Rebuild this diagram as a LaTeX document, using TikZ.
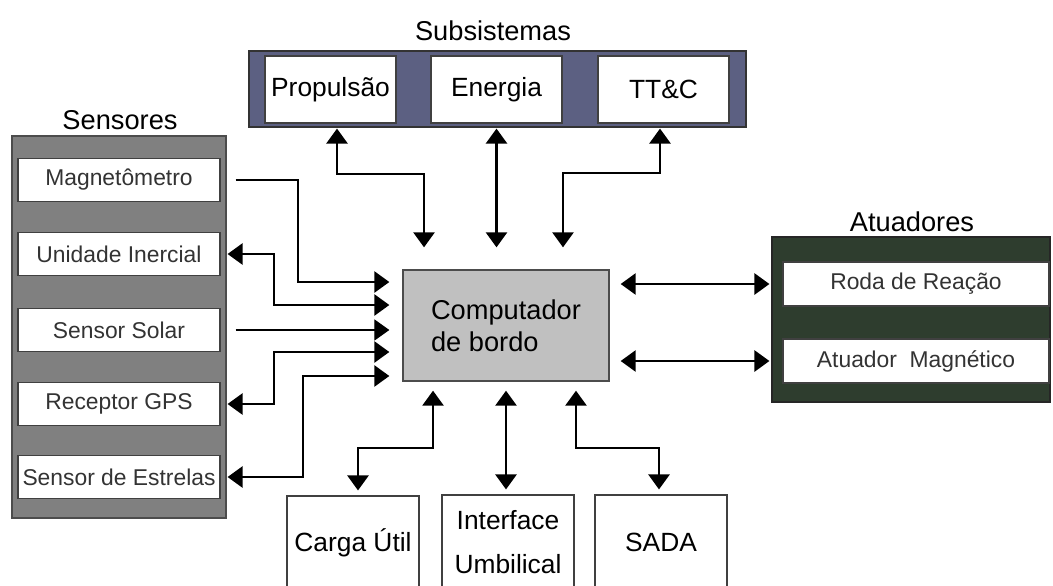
\documentclass[tikz,border=0pt]{standalone}
\usepackage{fontspec}
\setmainfont{Liberation Sans}
\usetikzlibrary{arrows.meta}

\begin{document}
\begin{tikzpicture}[x=0.02cm, y=-0.02cm,
    box/.style={draw=black!75, fill=white, line width=0.7pt, inner sep=0pt},
    sensbox/.style={box, minimum width=4.04cm, minimum height=0.86cm, font=\fontsize{13}{15}\selectfont, text=black!80},
    subbox/.style={box, minimum width=2.62cm, minimum height=1.34cm, font=\fontsize{15}{18}\selectfont},
    atubox/.style={box, minimum width=5.32cm, minimum height=0.88cm, font=\fontsize{13}{15}\selectfont, text=black!80},
    lowbox/.style={box, minimum width=2.64cm, minimum height=1.88cm, font=\fontsize{15}{25}\selectfont, align=center},
    title/.style={font=\fontsize{15.5}{18}\selectfont},
    tip/.tip={Triangle[width=12pt,length=8.5pt]},
    uniarrow/.style={line width=1.2pt, -tip},
    biarrow/.style={line width=1.2pt, tip-tip}]

% Colors
\definecolor{sensgray}{RGB}{128,128,128}
\definecolor{subblue}{RGB}{92,96,130}
\definecolor{atugreen}{RGB}{46,61,46}
\definecolor{compgray}{RGB}{192,192,192}

\useasboundingbox (0,0) rectangle (1053,585);
\clip (0,0) rectangle (1053,585);

% Group panels
\draw[fill=sensgray, draw=black!70, line width=0.8pt] (12,136) rectangle (226,518);
\draw[fill=subblue, draw=black!80, line width=0.8pt] (249,51) rectangle (746,127);
\draw[fill=atugreen, draw=black!85, line width=0.8pt] (772,237) rectangle (1050,402);

% Titles
\node[title] (tsens) at (120,120) {Sensores};
\node[title] (tsub) at (493,31) {Subsistemas};
\node[title] (tatu) at (912,222) {Atuadores};

% Sensors
\node[sensbox] (mag) at (119,180) {Magnetômetro};
\node[sensbox] (iner) at (119,254) {Unidade Inercial};
\node[sensbox] (solar) at (119,330) {Sensor Solar};
\node[sensbox] (gps) at (119,404) {Receptor GPS};
\node[sensbox] (estr) at (119,477) {Sensor de Estrelas};

% Subsystems
\node[subbox] (prop) at (330.5,89.5) {Propulsão};
\node[subbox] (ener) at (496.5,89.5) {Energia};
\node[subbox] (ttc) at (663.5,89.5) {TT\&C};

% Actuators
\node[atubox] (roda) at (916,284) {Roda de Reação};
\node[atubox] (atmag) at (916,361) {Atuador\ \ Magnético};

% On-board computer
\node[draw=black!70, fill=compgray, line width=0.8pt, minimum width=4.12cm, minimum height=2.22cm,
      font=\fontsize{15.5}{18}\selectfont, align=left] (comp) at (506,325.5) {Computador\\de bordo};

% Lower boxes
\node[lowbox] (carga) at (353,543) {Carga Útil};
\node[lowbox] (iface) at (508,542) {Interface\\Umbilical};
\node[lowbox] (sada) at (661,542) {SADA};

% Sensors to computer
\draw[uniarrow, shorten >=0.26cm] ([xshift=0.3cm]mag.east) -- ++(62,0) |- ([yshift=0.87cm]comp.west);
\draw[biarrow, shorten <=0.14cm, shorten >=0.26cm] (iner.east) -- ++(53,0) |- ([yshift=0.41cm]comp.west);
\draw[uniarrow, line width=0.6pt, shorten >=0.26cm] ([xshift=0.3cm]solar.east) -- (solar.east -| comp.west);
\draw[biarrow, shorten <=0.14cm, shorten >=0.26cm] (gps.east) -- ++(53,0) |- ([yshift=-0.53cm]comp.west);
\draw[biarrow, shorten <=0.14cm, shorten >=0.26cm] (estr.east) -- ++(82,0) |- ([yshift=-1.01cm]comp.west);

% Subsystems to computer
\draw[biarrow, shorten <=0.1cm, shorten >=0.44cm] ([xshift=0.13cm]prop.south) -- ++(0,50) -| ([xshift=-1.64cm]comp.north);
\draw[biarrow, shorten <=0.1cm, shorten >=0.44cm] (ener.south) -- (ener.south |- comp.north);
\draw[biarrow, shorten <=0.1cm, shorten >=0.44cm] ([xshift=-0.07cm]ttc.south) -- ++(0,49) -| ([xshift=1.14cm]comp.north);

% Computer to actuators
\draw[biarrow, shorten <=0.22cm, shorten >=0.26cm] (comp.east |- roda.west) -- (roda.west);
\draw[biarrow, shorten <=0.22cm, shorten >=0.26cm] (comp.east |- atmag.west) -- (atmag.west);

% Computer to lower boxes
\draw[biarrow, shorten <=0.18cm, shorten >=0.1cm] ([xshift=-1.46cm]comp.south) -- ++(0,66) -| ([xshift=0.1cm]carga.north);
\draw[biarrow, shorten <=0.18cm, shorten >=0.1cm] (comp.south) -- (comp.south |- iface.north);
\draw[biarrow, shorten <=0.18cm, shorten >=0.1cm] ([xshift=1.4cm]comp.south) -- ++(0,66) -| ([xshift=-0.04cm]sada.north);

\end{tikzpicture}
\end{document}
